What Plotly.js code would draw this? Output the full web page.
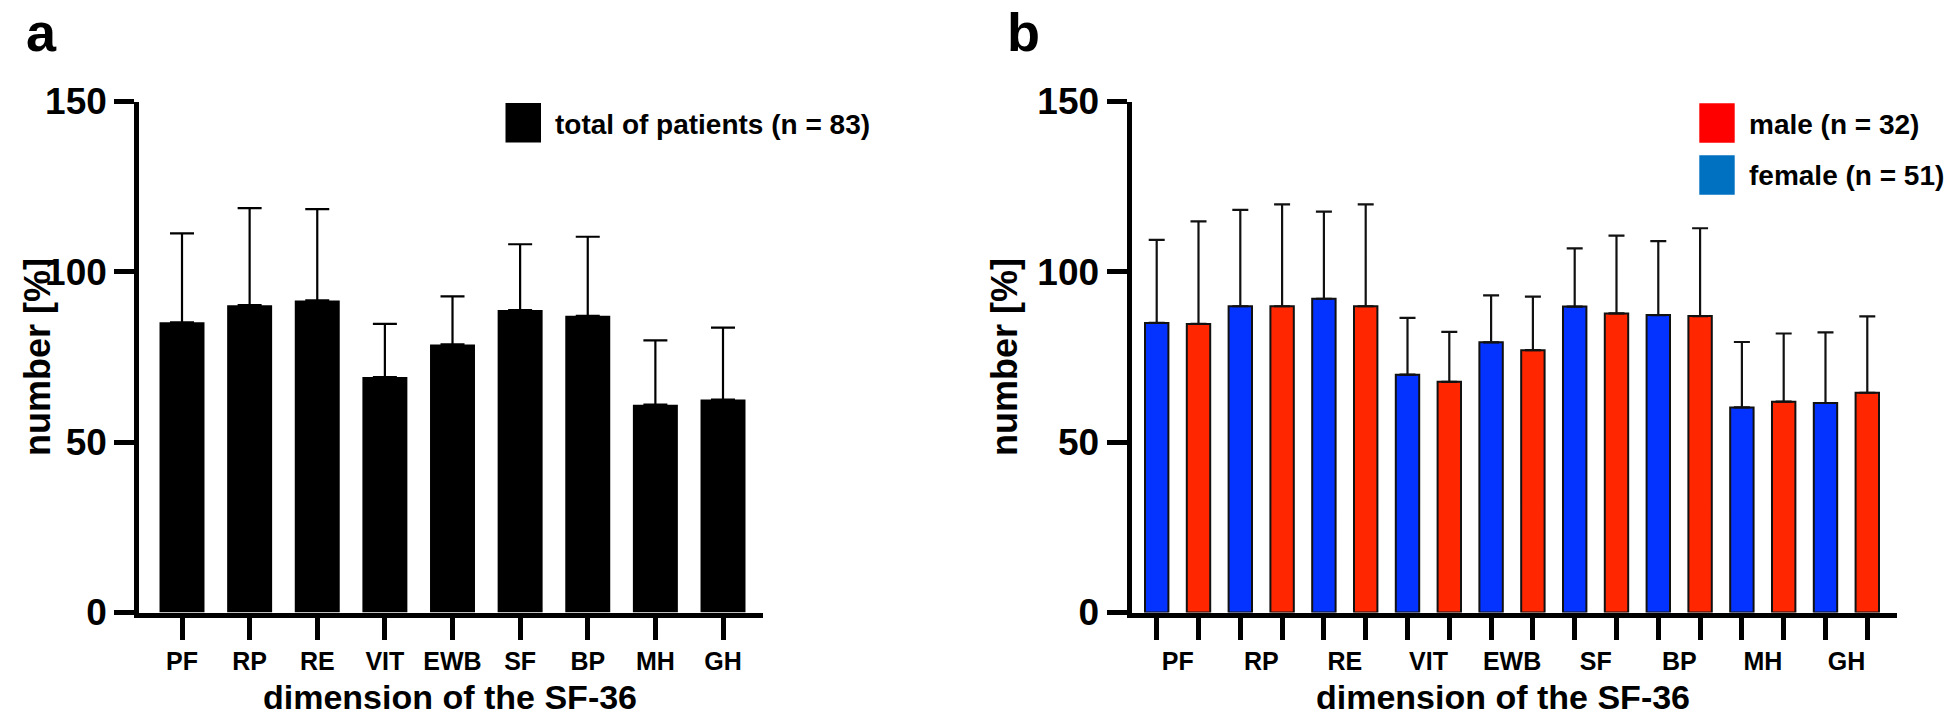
<!DOCTYPE html>
<html>
<head>
<meta charset="utf-8">
<script src="https://cdn.plot.ly/plotly-3.0.1.min.js"></script>
<style>html,body{margin:0;padding:0;background:#fff;}#chart{width:1944px;height:715px;}</style>
</head>
<body>
<div id="chart"></div>
<script>
// ---- data ----
const categories = ['PF', 'RP', 'RE', 'VIT', 'EWB', 'SF', 'BP', 'MH', 'GH'];
const totalMean  = [85.2, 90.2, 91.6, 69.1, 78.7, 88.8, 87.1, 61.0, 62.5];
const totalSD    = [26.1, 28.5, 26.8, 15.6, 14.1, 19.3, 23.2, 18.9, 21.1];
const femaleMean = [85.0, 89.9, 92.1, 69.8, 79.3, 89.8, 87.3, 60.2, 61.5];
const femaleSD   = [24.4, 28.3, 25.6, 16.7, 13.8, 17.1, 21.7, 19.2, 20.7];
const maleMean   = [84.7, 89.9, 89.9, 67.7, 77.0, 87.8, 87.0, 61.9, 64.5];
const maleSD     = [30.1, 29.9, 29.9, 14.7, 15.7, 22.8, 25.8, 20.0, 22.4];
const yTicks = [0, 50, 100, 150];
const legendTotal = 'total of patients (n = 83)';
const legendMale = 'male (n = 32)';
const legendFemale = 'female (n = 51)';
const yTitle = 'number [%]';
const xTitle = 'dimension of the SF-36';

// ---- helpers ----
const W = 1944, H = 715;
const X = px => px / W;
const Y = py => 1 - py / H;
const FONT = 'Arial, "Liberation Sans", Helvetica, sans-serif';
const bold = (size, color) => ({family: FONT, size: size, color: color || '#000', weight: 'bold'});

const femaleX = categories.map((c, i) => 2 * i);
const maleX = categories.map((c, i) => 2 * i + 1);
const bTickVals = categories.flatMap((c, i) => [2 * i, 2 * i + 1]);
const bTickText = categories.flatMap(c => [c, '']);
const zeros = categories.map(() => 0);

const BLUE = '#0433FF', RED = '#FF2600';

const traces = [
  {
    type: 'bar', x: categories, y: totalMean, xaxis: 'x', yaxis: 'y',
    width: 0.665, marker: {color: '#000', line: {width: 0}},
    error_y: {type: 'data', array: totalSD, arrayminus: zeros, symmetric: false,
              color: '#000', thickness: 2.2, width: 12},
    hoverinfo: 'x+y'
  },
  {
    type: 'bar', x: femaleX, y: femaleMean, xaxis: 'x2', yaxis: 'y2', name: 'female',
    width: 0.56, marker: {color: BLUE, line: {width: 2, color: '#111'}},
    error_y: {type: 'data', array: femaleSD, arrayminus: zeros, symmetric: false,
              color: '#111', thickness: 2.2, width: 8},
    hoverinfo: 'y'
  },
  {
    type: 'bar', x: maleX, y: maleMean, xaxis: 'x2', yaxis: 'y2', name: 'male',
    width: 0.56, marker: {color: RED, line: {width: 2, color: '#111'}},
    error_y: {type: 'data', array: maleSD, arrayminus: zeros, symmetric: false,
              color: '#111', thickness: 2.2, width: 8},
    hoverinfo: 'y'
  }
];

const yAxisCommon = {
  range: [0, 150], tickvals: yTicks, ticktext: yTicks.map(String),
  showline: true, linewidth: 5, linecolor: '#000',
  ticks: 'outside', ticklen: 20, tickwidth: 5, tickcolor: '#000',
  tickfont: bold(37), showgrid: false, zeroline: false, fixedrange: true,
  domain: [Y(612.5), Y(101.5)]
};
const xAxisCommon = {
  showline: true, linewidth: 5, linecolor: '#000',
  ticks: 'outside', ticklen: 22, tickwidth: 5, tickcolor: '#000',
  tickfont: bold(25), showgrid: false, zeroline: false, fixedrange: true
};

const layout = {
  width: W, height: H,
  margin: {l: 0, r: 0, t: 0, b: 0, pad: 0},
  paper_bgcolor: '#fff', plot_bgcolor: 'rgba(0,0,0,0)',
  showlegend: false, barmode: 'overlay',
  xaxis: Object.assign({}, xAxisCommon, {
    type: 'category', domain: [X(139.2), X(762.7)], range: [-0.633, 8.587], anchor: 'y'
  }),
  yaxis: Object.assign({}, yAxisCommon, {anchor: 'x'}),
  xaxis2: Object.assign({}, xAxisCommon, {
    type: 'linear', domain: [X(1131.5), X(1897.3)], range: [-0.603, 17.718], anchor: 'y2',
    tickvals: bTickVals, ticktext: bTickText, ticklabelshift: 21
  }),
  yaxis2: Object.assign({}, yAxisCommon, {anchor: 'x2'}),
  shapes: [
    {type: 'rect', xref: 'paper', yref: 'paper', x0: X(505.5), x1: X(541), y0: Y(142.5), y1: Y(103),
     fillcolor: '#000', line: {width: 0}},
    {type: 'rect', xref: 'paper', yref: 'paper', x0: X(1699.3), x1: X(1734.7), y0: Y(142.7), y1: Y(103.3),
     fillcolor: '#FE0000', line: {width: 0}},
    {type: 'rect', xref: 'paper', yref: 'paper', x0: X(1699.3), x1: X(1734.7), y0: Y(194.7), y1: Y(155.3),
     fillcolor: '#0070C0', line: {width: 0}}
  ],
  annotations: [
    {text: 'a', xref: 'paper', yref: 'paper', x: X(24), y: 1, xanchor: 'left', yanchor: 'top',
     showarrow: false, font: bold(54)},
    {text: 'b', xref: 'paper', yref: 'paper', x: X(1005), y: 1, xanchor: 'left', yanchor: 'top',
     showarrow: false, font: bold(54)},
    {text: legendTotal, xref: 'paper', yref: 'paper', x: X(553), y: Y(125), xanchor: 'left', yanchor: 'middle',
     showarrow: false, font: bold(28)},
    {text: legendMale, xref: 'paper', yref: 'paper', x: X(1747), y: Y(125), xanchor: 'left', yanchor: 'middle',
     showarrow: false, font: bold(28)},
    {text: legendFemale, xref: 'paper', yref: 'paper', x: X(1747), y: Y(175), xanchor: 'left', yanchor: 'middle',
     showarrow: false, font: bold(28)},
    {text: yTitle, xref: 'paper', yref: 'paper', x: X(37), y: Y(357), xanchor: 'center', yanchor: 'middle',
     textangle: -90, showarrow: false, font: bold(36)},
    {text: yTitle, xref: 'paper', yref: 'paper', x: X(1004), y: Y(357), xanchor: 'center', yanchor: 'middle',
     textangle: -90, showarrow: false, font: bold(36)},
    {text: xTitle, xref: 'paper', yref: 'paper', x: X(450), y: Y(696.5), xanchor: 'center', yanchor: 'middle',
     showarrow: false, font: bold(34)},
    {text: xTitle, xref: 'paper', yref: 'paper', x: X(1503), y: Y(696.5), xanchor: 'center', yanchor: 'middle',
     showarrow: false, font: bold(34)}
  ]
};

Plotly.newPlot('chart', traces, layout, {staticPlot: true, displayModeBar: false});
</script>
</body>
</html>
